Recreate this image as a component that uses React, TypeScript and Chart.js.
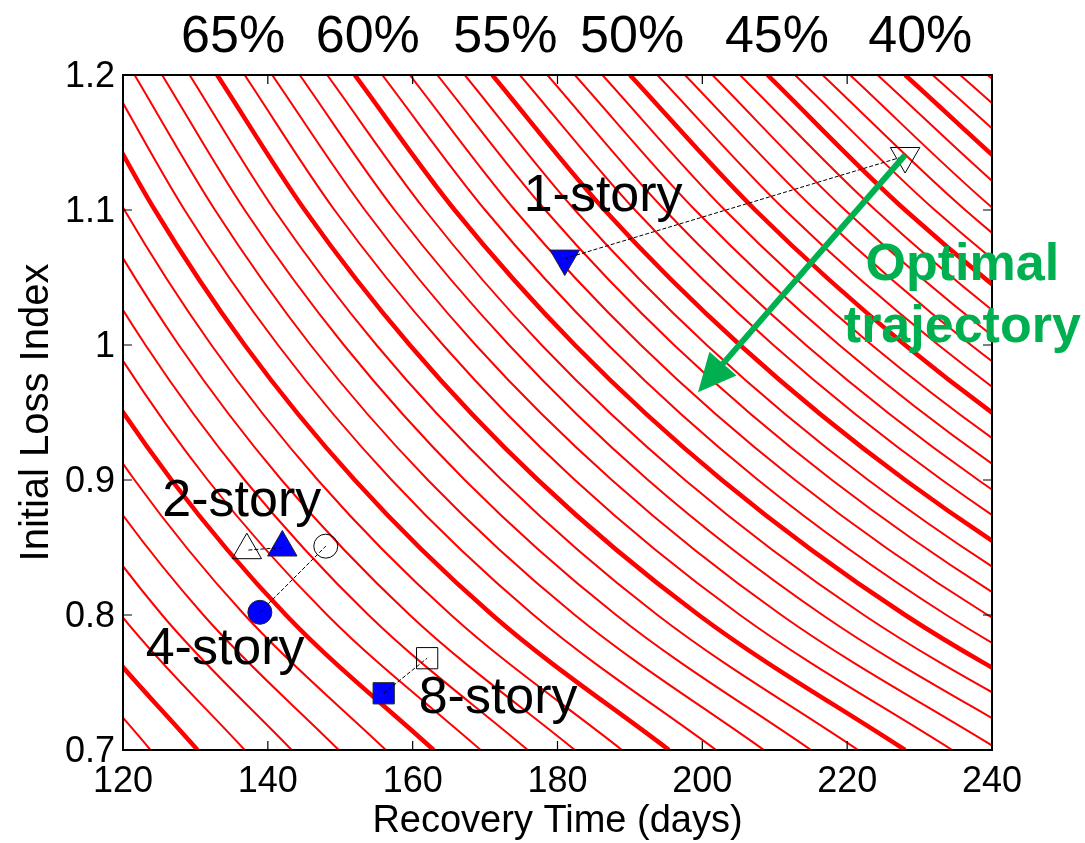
import React, { useEffect, useRef } from 'react';
import { Chart, registerables } from 'chart.js';

Chart.register(...registerables);

// ---- Data ----
// Initial loss index grid at which each contour's recovery time was read
const LOSS_GRID = [1.2, 1.1, 1.0, 0.9, 0.8, 0.7];
// Contour levels (%) — thick lines every 5 %
const CONTOUR_LEVELS = [81, 80, 79, 78, 77, 76, 75, 74, 73, 72, 71, 70, 69, 68, 67, 66, 65, 64, 63, 62, 61, 60, 59, 58, 57, 56, 55, 54, 53, 52, 51, 50, 49, 48, 47, 46, 45, 44, 43, 42, 41, 40, 39, 38, 37];
// Recovery time (days) of each contour at LOSS_GRID
const CONTOUR_TIMES = [
  [72.2, 78.8, 86.6, 96.3, 108.3, 123.8],
  [76.0, 82.9, 91.2, 101.3, 114.0, 130.3],
  [79.8, 87.1, 95.8, 106.4, 119.7, 136.8],
  [83.6, 91.2, 100.3, 111.5, 125.4, 143.3],
  [87.4, 95.3, 104.9, 116.5, 131.1, 149.8],
  [91.2, 99.5, 109.4, 121.6, 136.8, 156.3],
  [95.0, 103.6, 114.0, 126.7, 142.5, 162.9],
  [98.8, 107.8, 118.6, 131.7, 148.2, 169.4],
  [102.6, 111.9, 123.1, 136.8, 153.9, 175.9],
  [106.4, 116.1, 127.7, 141.9, 159.6, 182.4],
  [110.2, 120.2, 132.2, 146.9, 165.3, 188.9],
  [114.0, 124.4, 136.8, 152.0, 171.0, 195.4],
  [117.8, 128.5, 141.4, 157.1, 176.7, 201.9],
  [121.6, 132.7, 145.9, 162.1, 182.4, 208.5],
  [125.4, 136.8, 150.5, 167.2, 188.1, 215.0],
  [129.2, 140.9, 155.0, 172.3, 193.8, 221.5],
  [133.0, 145.1, 159.6, 177.3, 199.5, 228.0],
  [136.8, 149.2, 164.2, 182.4, 205.2, 234.5],
  [140.6, 153.4, 168.7, 187.5, 210.9, 241.0],
  [144.4, 157.5, 173.3, 192.5, 216.6, 247.5],
  [148.2, 161.7, 177.8, 197.6, 222.3, 254.1],
  [152.0, 165.8, 182.4, 202.7, 228.0, 260.6],
  [155.8, 170.0, 187.0, 207.7, 233.7, 267.1],
  [159.6, 174.1, 191.5, 212.8, 239.4, 273.6],
  [163.4, 178.3, 196.1, 217.9, 245.1, 280.1],
  [167.2, 182.4, 200.6, 222.9, 250.8, 286.6],
  [171.0, 186.5, 205.2, 228.0, 256.5, 293.1],
  [174.8, 190.7, 209.8, 233.1, 262.2, 299.7],
  [178.6, 194.8, 214.3, 238.1, 267.9, 306.2],
  [182.4, 199.0, 218.9, 243.2, 273.6, 312.7],
  [186.2, 203.1, 223.4, 248.3, 279.3, 319.2],
  [190.0, 207.3, 228.0, 253.3, 285.0, 325.7],
  [193.8, 211.4, 232.6, 258.4, 290.7, 332.2],
  [197.6, 215.6, 237.1, 263.5, 296.4, 338.7],
  [201.4, 219.7, 241.7, 268.5, 302.1, 345.3],
  [205.2, 223.9, 246.2, 273.6, 307.8, 351.8],
  [209.0, 228.0, 250.8, 278.7, 313.5, 358.3],
  [212.8, 232.1, 255.4, 283.7, 319.2, 364.8],
  [216.6, 236.3, 259.9, 288.8, 324.9, 371.3],
  [220.4, 240.4, 264.5, 293.9, 330.6, 377.8],
  [224.2, 244.6, 269.0, 298.9, 336.3, 384.3],
  [228.0, 248.7, 273.6, 304.0, 342.0, 390.9],
  [231.8, 252.9, 278.2, 309.1, 347.7, 397.4],
  [235.6, 257.0, 282.7, 314.1, 353.4, 403.9],
  [239.4, 261.2, 287.3, 319.2, 359.1, 410.4],
];

const X_TICKS = [120, 140, 160, 180, 200, 220, 240];
const X_TICK_LABELS = ['120', '140', '160', '180', '200', '220', '240'];
const Y_TICKS = [0.7, 0.8, 0.9, 1.0, 1.1, 1.2];
const Y_TICK_LABELS = ['0.7', '0.8', '0.9', '1', '1.1', '1.2'];
const X_TITLE = 'Recovery Time (days)';
const Y_TITLE = 'Initial Loss Index';

const PCT_LABELS = ['65%', '60%', '55%', '50%', '45%', '40%'];
const PCT_LABEL_X = [135.2, 153.8, 172.8, 190.3, 210.3, 230.1];
const PCT_LABEL_Y = 1.217;

const BUILDINGS = ['1-story', '2-story', '4-story', '8-story'];
const INITIAL_TIME = [228.0, 137.1, 148.0, 162.0];
const INITIAL_LOSS = [1.14, 0.848, 0.851, 0.768];
const OPTIMIZED_TIME = [181.0, 142.0, 138.9, 156.0];
const OPTIMIZED_LOSS = [1.064, 0.85, 0.802, 0.742];
const MARKER_STYLE = ['triangle', 'triangle', 'circle', 'rect'];
const MARKER_ROTATION = [180, 0, 0, 0];
const MARKER_RADIUS = [17, 17, 12, 15];
const LABEL_TIME = [186.3, 136.4, 134.1, 171.8];
const LABEL_LOSS = [1.099, 0.8736, 0.7636, 0.7277];

const ARROW_FROM = [228.0, 1.1407];
const ARROW_TO = [199.4, 0.965];
const ANNOTATION_LINES = ['Optimal', 'trajectory'];
const ANNOTATION_TIME = 235.9;
const ANNOTATION_LOSS = [1.048, 1.002];

const FONT = '"Liberation Sans", Arial, Helvetica, sans-serif';
const GREEN = '#00B050';

const overlayPlugin = {
  id: 'overlay',
  afterDraw(chart: any) {
    const { ctx, chartArea: a } = chart;
    const xs = chart.scales.x;
    const ys = chart.scales.y;
    ctx.save();

    // axes box
    ctx.strokeStyle = '#000';
    ctx.lineWidth = 2;
    ctx.strokeRect(a.left, a.top, a.right - a.left, a.bottom - a.top);

    // inward ticks on all four sides
    ctx.lineWidth = 1.2;
    const tl = 9;
    ctx.beginPath();
    X_TICKS.forEach((v) => {
      const px = xs.getPixelForValue(v);
      ctx.moveTo(px, a.bottom);
      ctx.lineTo(px, a.bottom - tl);
      ctx.moveTo(px, a.top);
      ctx.lineTo(px, a.top + tl);
    });
    Y_TICKS.forEach((v) => {
      const py = ys.getPixelForValue(v);
      ctx.moveTo(a.left, py);
      ctx.lineTo(a.left + tl, py);
      ctx.moveTo(a.right, py);
      ctx.lineTo(a.right - tl, py);
    });
    ctx.stroke();

    // tick labels
    ctx.fillStyle = '#000';
    ctx.font = `36px ${FONT}`;
    ctx.textAlign = 'center';
    ctx.textBaseline = 'alphabetic';
    X_TICKS.forEach((v, i) => {
      ctx.fillText(X_TICK_LABELS[i], xs.getPixelForValue(v), a.bottom + 42);
    });
    ctx.textAlign = 'right';
    ctx.textBaseline = 'middle';
    Y_TICKS.forEach((v, i) => {
      ctx.fillText(Y_TICK_LABELS[i], a.left - 8, ys.getPixelForValue(v) + 2);
    });

    // axis titles
    ctx.font = `38px ${FONT}`;
    ctx.textAlign = 'center';
    ctx.textBaseline = 'alphabetic';
    ctx.fillText(X_TITLE, (a.left + a.right) / 2, a.bottom + 82);
    ctx.save();
    ctx.font = `40px ${FONT}`;
    ctx.translate(a.left - 75, (a.top + a.bottom) / 2);
    ctx.rotate(-Math.PI / 2);
    ctx.fillText(Y_TITLE, 0, 0);
    ctx.restore();

    // percentage labels above the plot
    ctx.font = `52px ${FONT}`;
    PCT_LABELS.forEach((t, i) => {
      ctx.fillText(t, xs.getPixelForValue(PCT_LABEL_X[i]), ys.getPixelForValue(PCT_LABEL_Y));
    });

    // building labels
    BUILDINGS.forEach((t, i) => {
      ctx.fillText(t, xs.getPixelForValue(LABEL_TIME[i]), ys.getPixelForValue(LABEL_LOSS[i]));
    });

    // green arrow
    const x0 = xs.getPixelForValue(ARROW_FROM[0]);
    const y0 = ys.getPixelForValue(ARROW_FROM[1]);
    const x1 = xs.getPixelForValue(ARROW_TO[0]);
    const y1 = ys.getPixelForValue(ARROW_TO[1]);
    const len = Math.hypot(x1 - x0, y1 - y0);
    const ux = (x1 - x0) / len;
    const uy = (y1 - y0) / len;
    const headLen = 38;
    const headHalf = 18;
    const bx = x1 - ux * headLen;
    const by = y1 - uy * headLen;
    ctx.strokeStyle = GREEN;
    ctx.fillStyle = GREEN;
    ctx.lineWidth = 6;
    ctx.lineCap = 'butt';
    ctx.beginPath();
    ctx.moveTo(x0, y0);
    ctx.lineTo(bx + ux * 2, by + uy * 2);
    ctx.stroke();
    ctx.beginPath();
    ctx.moveTo(x1, y1);
    ctx.lineTo(bx - uy * headHalf, by + ux * headHalf);
    ctx.lineTo(bx + uy * headHalf, by - ux * headHalf);
    ctx.closePath();
    ctx.fill();

    // annotation text
    ctx.font = `bold 52px ${FONT}`;
    ctx.textAlign = 'center';
    ANNOTATION_LINES.forEach((t, i) => {
      ctx.fillText(t, xs.getPixelForValue(ANNOTATION_TIME), ys.getPixelForValue(ANNOTATION_LOSS[i]));
    });

    ctx.restore();
  },
};

export default function App() {
  const canvasRef = useRef<HTMLCanvasElement | null>(null);

  useEffect(() => {
    const canvas = canvasRef.current;
    if (!canvas) return;

    const contourSets = CONTOUR_LEVELS.map((lvl, i) => ({
      label: `${lvl}%`,
      data: CONTOUR_TIMES[i].map((t, j) => ({ x: t, y: LOSS_GRID[j] })),
      borderColor: '#FF0000',
      borderWidth: lvl % 5 === 0 ? 4.5 : 2,
      pointRadius: 0,
      fill: false,
      cubicInterpolationMode: 'monotone' as const,
      clip: 0,
      order: 3,
    }));

    const connectorSets = BUILDINGS.map((b, i) => ({
      label: `${b} path`,
      data: [
        { x: OPTIMIZED_TIME[i], y: OPTIMIZED_LOSS[i] },
        { x: INITIAL_TIME[i], y: INITIAL_LOSS[i] },
      ],
      borderColor: '#000',
      borderWidth: 1,
      borderDash: [4, 2],
      pointRadius: 0,
      fill: false,
      order: 0,
    }));

    const initialSets = BUILDINGS.map((b, i) => ({
      label: `${b} initial`,
      data: [{ x: INITIAL_TIME[i], y: INITIAL_LOSS[i] }],
      showLine: false,
      pointStyle: MARKER_STYLE[i],
      rotation: MARKER_ROTATION[i],
      pointRadius: MARKER_RADIUS[i],
      pointBackgroundColor: 'rgba(255,255,255,0)',
      pointBorderColor: '#000',
      pointBorderWidth: 1,
      order: 1,
    }));

    const optimizedSets = BUILDINGS.map((b, i) => ({
      label: `${b} optimized`,
      data: [{ x: OPTIMIZED_TIME[i], y: OPTIMIZED_LOSS[i] }],
      showLine: false,
      pointStyle: MARKER_STYLE[i],
      rotation: MARKER_ROTATION[i],
      pointRadius: MARKER_RADIUS[i],
      pointBackgroundColor: '#0000FF',
      pointBorderColor: '#222',
      pointBorderWidth: 1,
      order: 1,
    }));

    const chart = new Chart(canvas, {
      type: 'line',
      data: { datasets: [...connectorSets, ...optimizedSets, ...initialSets, ...contourSets] as any },
      options: {
        responsive: false,
        animation: false,
        events: [],
        layout: { padding: { left: 123, right: 93, top: 75, bottom: 93 } },
        plugins: { legend: { display: false }, tooltip: { enabled: false } },
        scales: {
          x: { type: 'linear', min: 120, max: 240, display: false },
          y: { type: 'linear', min: 0.7, max: 1.2, display: false },
        },
      },
      plugins: [overlayPlugin],
    });

    return () => chart.destroy();
  }, []);

  return (
    <div style={{ position: 'absolute', left: 0, top: 0, width: 1085, height: 843, background: '#fff' }}>
      <canvas ref={canvasRef} width={1085} height={843} style={{ display: 'block' }} />
    </div>
  );
}
